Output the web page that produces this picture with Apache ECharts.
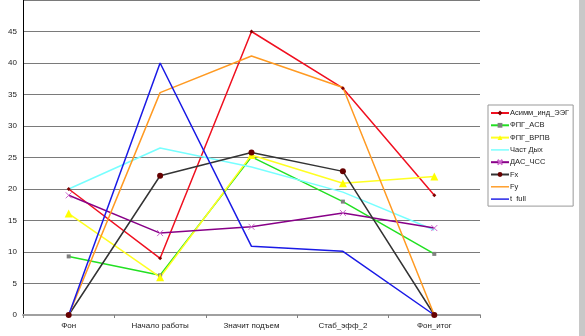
<!DOCTYPE html>
<html>
<head>
<meta charset="utf-8">
<script src="https://cdn.jsdelivr.net/npm/echarts@6/dist/echarts.min.js"></script>
<style>
  html, body { margin: 0; padding: 0; background: #fff; }
  #chart { width: 585px; height: 336px; }
  #edge { position: absolute; left: 579px; top: 0; width: 6px; height: 336px; background: #c8c8c8; }
</style>
</head>
<body>
<div id="chart"></div>
<div id="edge"></div>
<script>
// Stage names along the horizontal axis
const categories = ['Фон', 'Начало работы', 'Значит подъем', 'Стаб_эфф_2', 'Фон_итог'];

// Measured values per indicator
const asimmEEG = [20, 9, 45, 36, 19];
const fpgASV   = [9.3, 6.3, 25.1, 18, 9.7];
const fpgVRPV  = [16.1, 6, 25.4, 20.9, 22];
const chastDyh = [20, 26.5, 23.5, 19.5, 13.5];
const dasChss  = [19, 13, 14, 16.2, 13.8];
const fx       = [0, 22.1, 25.8, 22.8, 0];
const fy       = [0, 35.3, 41.1, 36.1, 0];
const tFull    = [0, 40, 10.9, 10.1, 0];

const yTicks = [0, 5, 10, 15, 20, 25, 30, 35, 40, 45];

const font = 'Liberation Sans, Arial, sans-serif';
const plainLineIcon = 'path://M0,0h20v1.6h-20z';

function line(name, data, color, symbol, symbolSize, markerColor, extraItem) {
  return {
    name, type: 'line', data,
    symbol, symbolSize,
    showSymbol: symbol !== 'none',
    lineStyle: { color, width: 1.5 },
    itemStyle: Object.assign({ color: markerColor || color, borderWidth: 0 }, extraItem || {}),
    emphasis: { disabled: true },
    animation: false
  };
}

const chart = echarts.init(document.getElementById('chart'), null, { renderer: 'canvas' });
chart.setOption({
  backgroundColor: '#ffffff',
  animation: false,
  grid: { left: 23, top: -2, width: 457, height: 317, containLabel: false },
  xAxis: {
    type: 'category',
    data: categories,
    boundaryGap: true,
    axisLine: { lineStyle: { color: '#a0a0a0', width: 2 } },
    axisTick: { show: true, length: 3, lineStyle: { color: '#808080' } },
    axisLabel: { color: '#222', fontFamily: font, fontSize: 8, margin: 7 },
    splitLine: { show: false }
  },
  yAxis: {
    type: 'value',
    min: 0, max: 50, interval: 5,
    axisLine: { show: true, lineStyle: { color: '#000', width: 1 } },
    axisTick: { show: false },
    axisLabel: {
      color: '#222', fontFamily: font, fontSize: 8, margin: 6,
      formatter: v => (yTicks.includes(v) ? String(v) : '')
    },
    splitLine: { show: true, lineStyle: { color: '#7a7a7a', width: 1 } }
  },
  legend: {
    orient: 'vertical',
    left: 488, top: 105,
    padding: [4, 4, 3, 2],
    itemWidth: 18, itemHeight: 6, itemGap: 4.3,
    borderColor: '#999', borderWidth: 1,
    backgroundColor: '#fff',
    textStyle: { fontFamily: font, fontSize: 7.5, color: '#222', padding: [0, 0, 0, -4] },
    data: [
      'Асимм_инд_ЭЭГ', 'ФПГ_АСВ', 'ФПГ_ВРПВ',
      { name: 'Част Дых', icon: plainLineIcon },
      'ДАС_ЧСС', 'Fx',
      { name: 'Fy', icon: plainLineIcon },
      { name: 't  full', icon: plainLineIcon }
    ]
  },
  series: [
    line('Асимм_инд_ЭЭГ', asimmEEG, '#f01020', 'diamond', 4, '#800000'),
    line('ФПГ_АСВ', fpgASV, '#22e022', 'rect', 4, '#808080'),
    line('ФПГ_ВРПВ', fpgVRPV, '#ffff22', 'triangle', 8, '#ffff00'),
    line('Част Дых', chastDyh, '#77ffff', 'none', 0),
    line('ДАС_ЧСС', dasChss, '#880088', 'path://M0,0L10,10M10,0L0,10', 6, '#cc66cc',
         { borderColor: '#cc66cc', borderWidth: 1 }),
    line('Fx', fx, '#333333', 'circle', 6, '#660000'),
    line('Fy', fy, '#ff9a22', 'none', 0),
    line('t  full', tFull, '#1a1ae6', 'none', 0)
  ]
});
</script>
</body>
</html>
